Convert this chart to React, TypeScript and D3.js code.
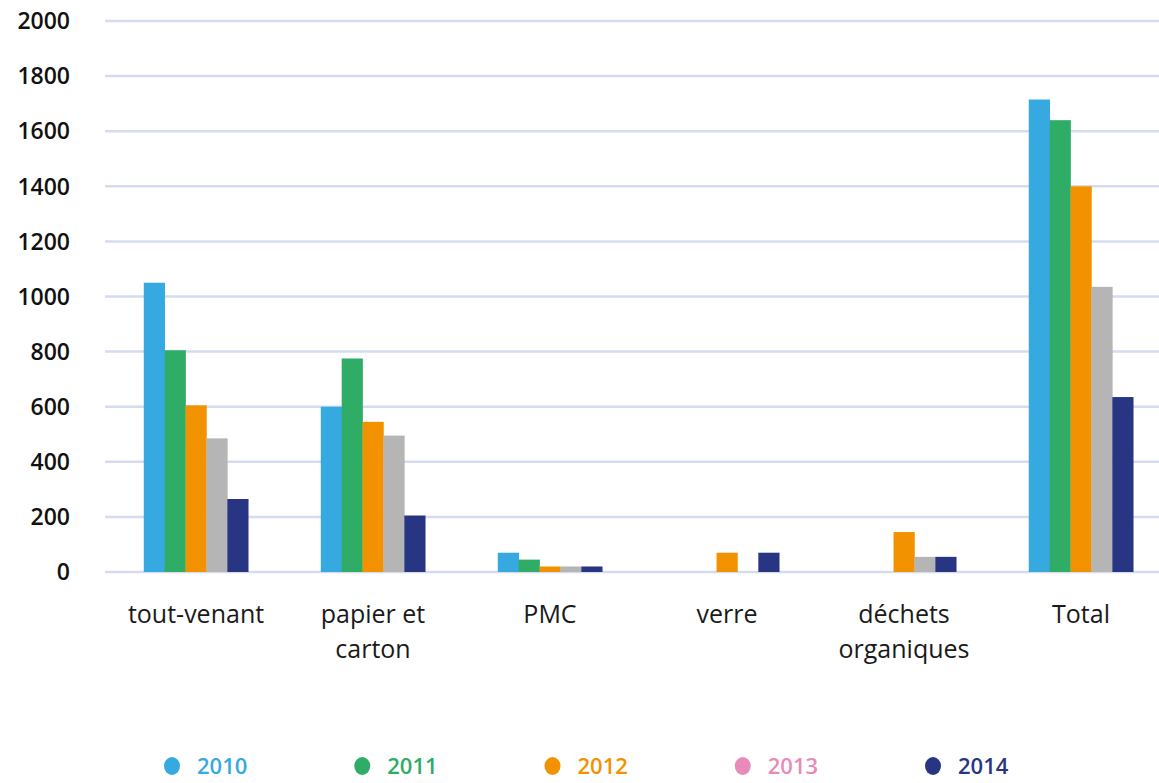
import React from "react"
import * as d3 from "d3"

const categories = ["tout-venant", "papier et\ncarton", "PMC", "verre", "déchets\norganiques", "Total"]
const years = ["2010", "2011", "2012", "2013", "2014"]
const barColors = ["#36a9e1", "#2fac66", "#f39200", "#b5b5b5", "#283583"]
const legendColors = ["#36a9e1", "#2fac66", "#f39200", "#e88bb8", "#283583"]
const values = [
  [1050, 805, 605, 485, 265],
  [600, 775, 545, 495, 205],
  [70, 45, 20, 20, 20],
  [0, 0, 70, 0, 70],
  [0, 0, 145, 55, 55],
  [1715, 1640, 1400, 1035, 635],
]
const yTicks = [0, 200, 400, 600, 800, 1000, 1200, 1400, 1600, 1800, 2000]

const W = 1159
const H = 783

export default function App() {
  const x0 = d3.scaleBand().domain(categories).range([107.5, 1169.5]).paddingInner(0.41).paddingOuter(0.205)
  const x1 = d3.scaleBand().domain(years).range([0, x0.bandwidth()])
  const y = d3.scaleLinear().domain([0, 2000]).range([572, 21])
  const legendX = d3.scalePoint().domain(years).range([172, 933])

  return (
    <svg width={W} height={H} style={{ position: "absolute", left: 0, top: 0, background: "#fff" }}>
      <g>
        {yTicks.map(t => (
          <g key={t}>
            <line x1={105} x2={W} y1={y(t)} y2={y(t)} stroke="#d5dcef" strokeWidth={2.5} />
            <text x={70} y={y(t)} dy="0.36em" textAnchor="end" fontFamily="'Open Sans', sans-serif" fontWeight={600} fontSize={23} fill="#111">
              {t}
            </text>
          </g>
        ))}
      </g>
      {categories.map((c, ci) => (
        <g key={c} transform={`translate(${x0(c)},0)`}>
          {years.map((yr, yi) => {
            const v = values[ci][yi]
            if (!v) return null
            return (
              <rect key={yr} x={x1(yr)} y={y(v)} width={x1.bandwidth() + 0.3} height={y(0) - y(v)} fill={barColors[yi]} />
            )
          })}
          {c.split("\n").map((line, li) => (
            <text key={li} x={x0.bandwidth() / 2} y={623 + li * 35} textAnchor="middle" fontFamily="'Open Sans', sans-serif" fontSize={25} fill="#1a1a1a">
              {line}
            </text>
          ))}
        </g>
      ))}
      {years.map((yr, i) => (
        <g key={yr} transform={`translate(${legendX(yr)},766)`}>
          <ellipse cx={0} cy={0} rx={8} ry={9} fill={legendColors[i]} />
          <text x={25} y={8} fontFamily="'Open Sans', sans-serif" fontWeight={600} fontSize={22} fill={legendColors[i]}>
            {yr}
          </text>
        </g>
      ))}
    </svg>
  )
}
